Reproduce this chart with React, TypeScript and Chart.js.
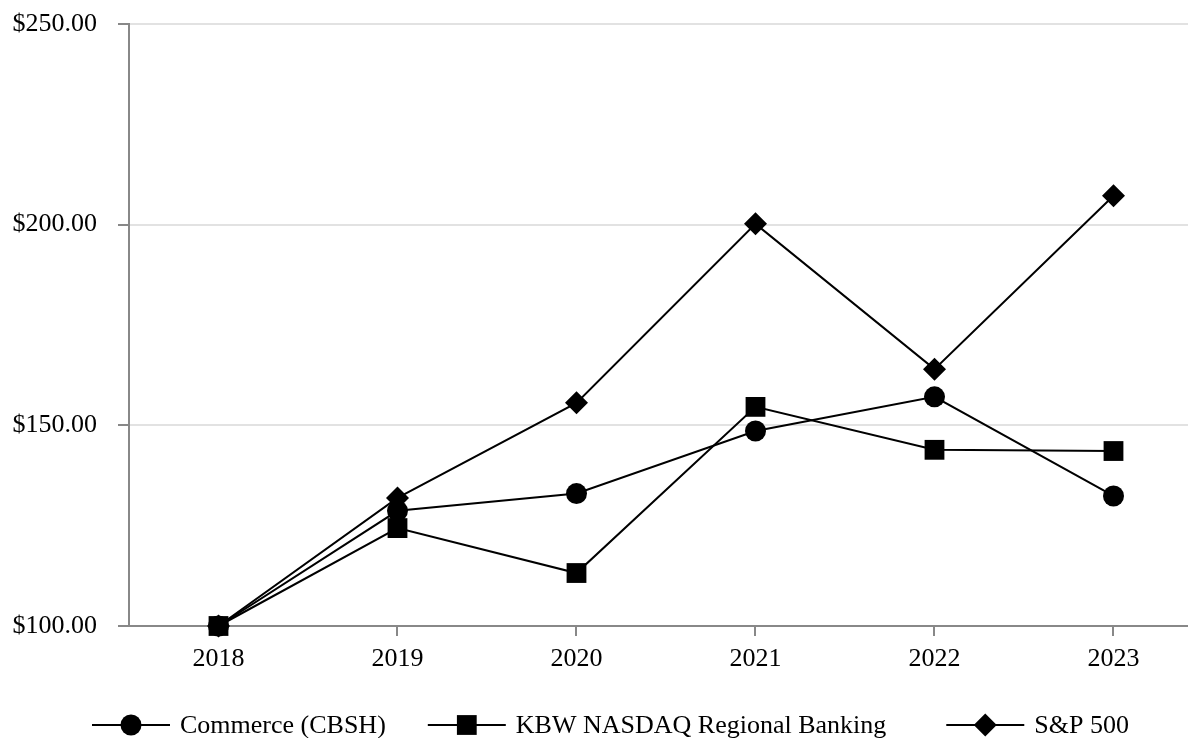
import React, { useEffect, useRef } from "react";
import { Chart, registerables } from "chart.js";

Chart.register(...registerables);

const years = [2018, 2019, 2020, 2021, 2022, 2023];
const commerce = [100, 128.7, 133.0, 148.6, 157.1, 132.4];
const kbw = [100, 124.4, 113.2, 154.6, 143.9, 143.6];
const sp500 = [100, 131.9, 155.6, 200.2, 164.0, 207.2];
const seriesNames = ["Commerce (CBSH)", "KBW NASDAQ Regional Banking", "S&P 500"];
const yTicks = [100, 150, 200, 250];

const FONT = "'Liberation Serif', 'Times New Roman', serif";

function drawMarker(ctx: CanvasRenderingContext2D, style: string, r: number, x: number, y: number) {
  ctx.beginPath();
  if (style === "circle") {
    ctx.arc(x, y, r, 0, Math.PI * 2);
  } else if (style === "rect") {
    const s = Math.SQRT1_2 * r;
    ctx.rect(x - s, y - s, 2 * s, 2 * s);
  } else {
    ctx.moveTo(x - r, y);
    ctx.lineTo(x, y - r);
    ctx.lineTo(x + r, y);
    ctx.lineTo(x, y + r);
    ctx.closePath();
  }
  ctx.fill();
}

const legendPlugin = {
  id: "customLegend",
  afterDraw(chart: any) {
    const ctx = chart.ctx as CanvasRenderingContext2D;
    const ds = chart.data.datasets;
    ctx.save();
    ctx.font = `26px ${FONT}`;
    const lineLen = 78;
    const textGap = 10;
    const gaps = [42, 60];
    let x = 92;
    const y = 725;
    ds.forEach((d: any, i: number) => {
      ctx.strokeStyle = "#000";
      ctx.lineWidth = 2;
      ctx.beginPath();
      ctx.moveTo(x, y);
      ctx.lineTo(x + lineLen, y);
      ctx.stroke();
      ctx.fillStyle = "#000";
      drawMarker(ctx, d.pointStyle, d.pointRadius, x + lineLen / 2, y);
      ctx.textAlign = "left";
      ctx.textBaseline = "middle";
      ctx.fillText(d.label, x + lineLen + textGap, y + 1);
      x += lineLen + textGap + ctx.measureText(d.label).width + (gaps[i] || 0);
    });
    ctx.restore();
  },
};

export default function App() {
  const ref = useRef<HTMLCanvasElement>(null);
  useEffect(() => {
    document.body.style.margin = "0";
    const mk = (label: string, vals: number[], style: string, r: number, order: number) => ({
      label,
      data: years.map((yr, i) => ({ x: yr, y: vals[i] })),
      borderColor: "#000",
      backgroundColor: "#000",
      borderWidth: 2,
      pointStyle: style,
      pointRadius: r,
      pointBorderWidth: 0,
      pointBackgroundColor: "#000",
      tension: 0,
      clip: false,
      order,
    });
    const chart = new Chart(ref.current!, {
      type: "line",
      data: {
        datasets: [
          mk(seriesNames[0], commerce, "circle", 10.5, 1),
          mk(seriesNames[1], kbw, "rect", 14, 0),
          mk(seriesNames[2], sp500, "rectRot", 11.5, 2),
        ] as any,
      },
      options: {
        animation: false,
        responsive: false,
        layout: { autoPadding: false, padding: { top: 24, left: 0, right: 0, bottom: 0 } },
        plugins: { legend: { display: false }, tooltip: { enabled: false } },
        scales: {
          x: {
            type: "linear",
            min: 2017.5,
            max: 2017.5 + (1188 - 129) / 179,
            afterFit: (s: any) => {
              s.height = 112;
              s.paddingLeft = 0;
              s.paddingRight = 0;
            },
            afterBuildTicks: (s: any) => { s.ticks = years.map((v) => ({ value: v })); },
            ticks: {
              callback: (v: any) => String(v),
              color: "#000",
              font: { family: FONT, size: 26 },
              padding: 8,
              maxRotation: 0,
            },
            grid: { drawOnChartArea: false, drawTicks: true, tickLength: 10, color: "#888", lineWidth: 2 },
            border: { color: "#888", width: 2 },
          },
          y: {
            min: 100,
            max: 250,
            afterFit: (s: any) => {
              s.width = 129;
              s.paddingTop = 0;
              s.paddingBottom = 0;
            },
            afterBuildTicks: (s: any) => { s.ticks = yTicks.map((v) => ({ value: v })); },
            ticks: {
              callback: (v: any) => "$" + Number(v).toFixed(2),
              color: "#000",
              font: { family: FONT, size: 26 },
              padding: 21,
            },
            grid: { color: "#e2e2e2", lineWidth: 2, tickColor: "#888", tickLength: 11 },
            border: { color: "#888", width: 2 },
          },
        },
      },
      plugins: [legendPlugin],
    });
    return () => chart.destroy();
  }, []);
  return (
    <div style={{ position: "fixed", left: 0, top: 0, width: 1188, height: 738, background: "#fff" }}>
      <canvas ref={ref} width={1188} height={738} />
    </div>
  );
}
